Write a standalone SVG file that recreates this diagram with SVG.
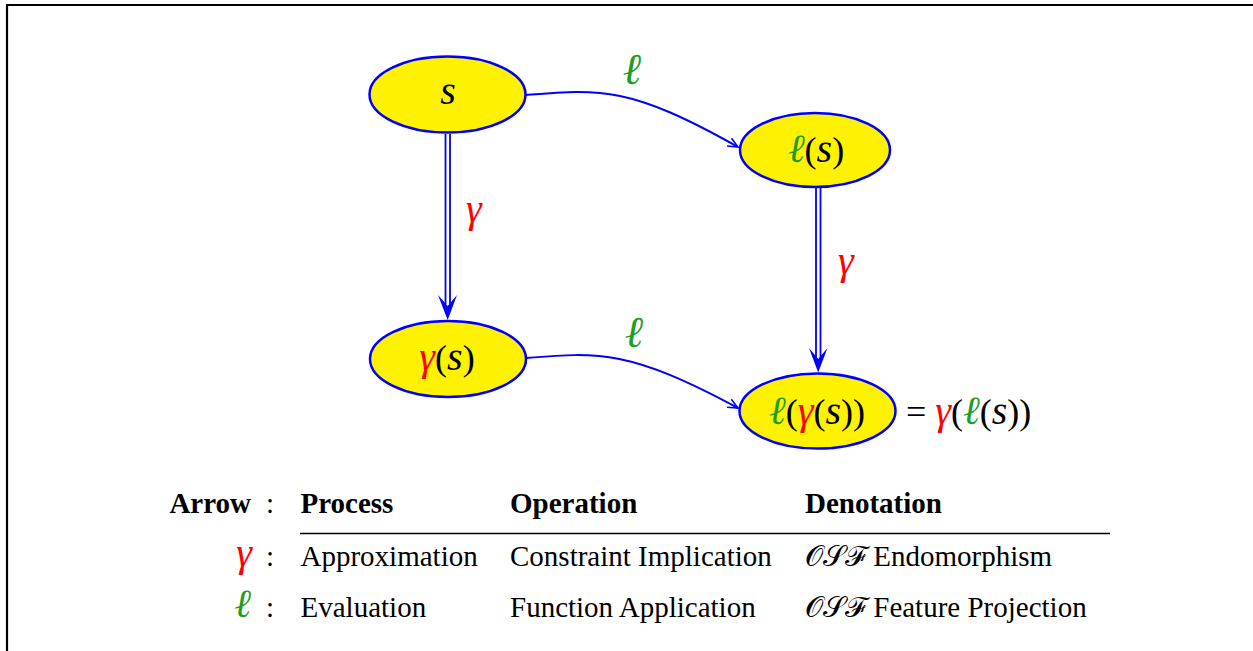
<svg xmlns="http://www.w3.org/2000/svg" width="1253" height="651" viewBox="0 0 1253 651">
<defs>
<style>
.node{fill:#fff200;stroke:#0000ff;stroke-width:2.5}
.math{font-family:"Liberation Serif","DejaVu Serif",serif;font-style:italic;font-size:40px;fill:#000}
.lbl{font-size:44px}
.up{font-style:normal;font-size:36px}
.g{fill:#1e9e1e}
.r{fill:#ff0000}
.tab{font-family:"Liberation Serif","DejaVu Serif",serif;font-size:29px;fill:#000}
.b{font-weight:bold}
.cal{font-family:"DejaVu Serif","Liberation Serif",serif;font-style:normal;font-weight:normal}
.edge{fill:none;stroke:#0000ff;stroke-width:2}
.dbl{fill:none;stroke:#0000ff;stroke-width:1.8}
.head{fill:#0000ff}
</style>
<marker id="arr" viewBox="0 0 12 12" refX="11" refY="6" markerWidth="12" markerHeight="12" markerUnits="userSpaceOnUse" orient="auto">
<path d="M1,1.5 L11,6 L1,10.5" fill="none" stroke="#0000ff" stroke-width="1.6"/>
</marker>
</defs>
<rect width="1253" height="651" fill="#fff"/>
<path d="M7,651 V5 H1253" fill="none" stroke="#000" stroke-width="2.2"/>

<g id="connectors">
<path class="edge" d="M526,95 C600,89 630,86 738,147" marker-end="url(#arr)"/>
<path class="edge" d="M526,358 C600,352 630,350 738,408" marker-end="url(#arr)"/>
<line class="dbl" x1="445.5" y1="134" x2="445.5" y2="304"/>
<line class="dbl" x1="450" y1="134" x2="450" y2="304"/>
<path class="head" d="M438,295 L447.7,320 L457,295 L447.7,306 Z"/>
<line class="dbl" x1="816" y1="188" x2="816" y2="358"/>
<line class="dbl" x1="820.5" y1="188" x2="820.5" y2="358"/>
<path class="head" d="M809,348 L818.2,372.5 L827.5,348 L818.2,359 Z"/>
<text class="math lbl g" x="632" y="84" text-anchor="middle">ℓ</text>
<text class="math lbl g" x="634" y="347" text-anchor="middle">ℓ</text>
<text class="math r" x="474" y="222" text-anchor="middle">γ</text>
<text class="math r" x="846" y="274" text-anchor="middle">γ</text>
</g>

<g id="node-s">
<ellipse class="node" cx="447.5" cy="94.5" rx="78" ry="38"/>
<text class="math" x="448" y="104" text-anchor="middle">s</text>
</g>
<g id="node-ls">
<ellipse class="node" cx="815" cy="150" rx="75" ry="37"/>
<text class="math" x="816" y="162" text-anchor="middle"><tspan class="g">ℓ</tspan><tspan class="up">(</tspan>s<tspan class="up">)</tspan></text>
</g>
<g id="node-gs">
<ellipse class="node" cx="448" cy="359" rx="78" ry="38"/>
<text class="math" x="447" y="370" text-anchor="middle"><tspan class="r">γ</tspan><tspan class="up">(</tspan>s<tspan class="up">)</tspan></text>
</g>
<g id="node-lgs">
<ellipse class="node" cx="817.5" cy="411" rx="78" ry="37.5"/>
<text class="math" x="817" y="424" text-anchor="middle"><tspan class="g">ℓ</tspan><tspan class="up">(</tspan><tspan class="r">γ</tspan><tspan class="up">(</tspan>s<tspan class="up">))</tspan></text>
</g>
<g id="eq">
<text class="math" x="906" y="424"><tspan class="up">= </tspan><tspan class="r">γ</tspan><tspan class="up">(</tspan><tspan class="g">ℓ</tspan><tspan class="up">(</tspan>s<tspan class="up">))</tspan></text>
</g>

<g id="table">
<text class="tab b" x="251" y="513" text-anchor="end">Arrow</text>
<text class="tab" x="270" y="513" text-anchor="middle">:</text>
<text class="tab b" x="300.5" y="513">Process</text>
<text class="tab b" x="510" y="513">Operation</text>
<text class="tab b" x="805" y="513">Denotation</text>
<line x1="300" y1="533.5" x2="1110" y2="533.5" stroke="#000" stroke-width="1.6"/>
<text class="math r" x="252" y="566" text-anchor="end">γ</text>
<text class="tab" x="270" y="566" text-anchor="middle">:</text>
<text class="tab" x="300.5" y="566">Approximation</text>
<text class="tab" x="510" y="566">Constraint Implication</text>
<text class="tab" x="805" y="566"><tspan class="cal">𝒪𝒮ℱ</tspan> Endomorphism</text>
<text class="math g" x="251" y="617" text-anchor="end">ℓ</text>
<text class="tab" x="270" y="617" text-anchor="middle">:</text>
<text class="tab" x="300.5" y="617">Evaluation</text>
<text class="tab" x="510" y="617">Function Application</text>
<text class="tab" x="805" y="617"><tspan class="cal">𝒪𝒮ℱ</tspan> Feature Projection</text>
</g>
</svg>
